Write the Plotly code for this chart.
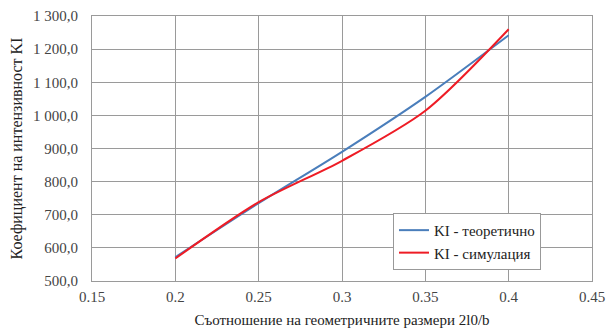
import plotly.graph_objects as go

ratio = [0.2, 0.25, 0.3, 0.35, 0.4]
ki_theory = [572, 735, 890, 1056, 1242]
ki_sim = [568, 738, 863, 1014, 1260]

y_ticks = [500, 600, 700, 800, 900, 1000, 1100, 1200, 1300]
y_ticktext = ["500,0", "600,0", "700,0", "800,0", "900,0", "1 000,0", "1 100,0", "1 200,0", "1 300,0"]
x_ticks = [0.15, 0.2, 0.25, 0.3, 0.35, 0.4, 0.45]
x_ticktext = ["0.15", "0.2", "0.25", "0.3", "0.35", "0.4", "0.45"]

font = "Liberation Serif, Times New Roman, serif"

fig = go.Figure()
fig.add_trace(go.Scatter(x=ratio, y=ki_theory, mode="lines", name="KI - теоретично",
                         line=dict(color="#4a7ebb", width=2, shape="spline", smoothing=0.8)))
fig.add_trace(go.Scatter(x=ratio, y=ki_sim, mode="lines", name="KI - симулация",
                         line=dict(color="#ee1c25", width=2, shape="spline", smoothing=0.8)))

fig.update_layout(
    width=607, height=336,
    margin=dict(l=92, r=15, t=16, b=55),
    paper_bgcolor="white", plot_bgcolor="white",
    font=dict(family=font, size=15, color="#444"),
    legend=dict(x=0.602, y=0.257, xanchor="left", yanchor="top",
                bordercolor="#999", borderwidth=1, bgcolor="white",
                font=dict(family=font, size=15, color="#222")),
    xaxis=dict(range=[0.15, 0.45], tickvals=x_ticks, ticktext=x_ticktext,
               showgrid=True, gridcolor="#9a9a9a", gridwidth=1,
               showline=True, linecolor="#9a9a9a", mirror=True, zeroline=False,
               ticks="", tickfont=dict(size=15), ticklabelstandoff=2, automargin=False,
               title=dict(text="Съотношение на геометричните размери 2l0/b",
                          font=dict(size=15, color="#222"), standoff=10)),
    yaxis=dict(range=[500, 1300], tickvals=y_ticks, ticktext=y_ticktext,
               showgrid=True, gridcolor="#9a9a9a", gridwidth=1,
               showline=True, linecolor="#9a9a9a", mirror=True, zeroline=False,
               ticks="", tickfont=dict(size=15), ticklabelstandoff=10, automargin=False,
               title=dict(text="Коефициент на интензивност KI",
                          font=dict(size=16, color="#222"), standoff=6)),
)

fig.write_html("out.html")
